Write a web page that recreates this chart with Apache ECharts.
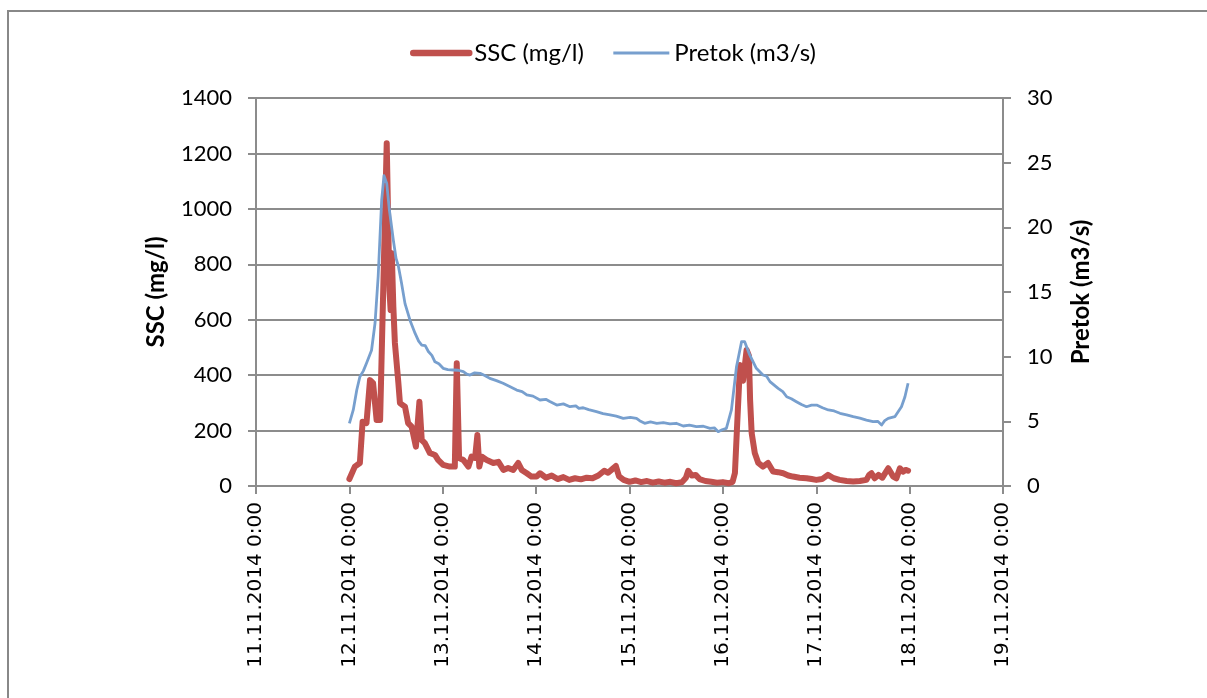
<!DOCTYPE html>
<html>
<head>
<meta charset="utf-8">
<script src="https://cdn.jsdelivr.net/npm/echarts@6/dist/echarts.min.js"></script>
<style>
  html, body { margin: 0; padding: 0; background: #fff; }
  #chart { width: 1207px; height: 698px; }
</style>
</head>
<body>
<div id="chart"></div>
<script>
// Time in hours from 12.11.2014 00:00
const sscHours = [0, 1.4, 2.7, 3.4, 4.4, 5.3, 6.1, 7.0, 7.9, 8.7, 9.6, 10.0, 10.3, 10.6, 10.9, 11.3, 11.7, 12.6, 13.0, 14.3,
  15.1, 16.0, 17.1, 18.0, 18.6, 19.4, 20.7, 22.0, 22.8, 24.1, 25.8, 27.1, 27.6, 28.2, 29.3, 30.6, 31.4, 32.3, 32.9, 33.4,
  34.0, 35.3, 37.0, 38.3, 39.6, 40.8, 42.1, 43.4, 44.3, 45.6, 46.8, 48.1, 49.0, 50.5, 52.0, 53.5, 55.0, 56.5, 58.0, 59.5,
  61.0, 62.5, 64.0, 65.5, 66.5, 67.5, 68.5, 69.3, 70.5, 72.0, 73.5, 75.0, 76.5, 78.0, 79.5, 81.0, 82.5, 84.0, 85.5, 86.5,
  87.1, 88.0, 89.0, 90.0, 91.5, 93.0, 94.5, 96.0, 97.5, 98.5, 99.1, 99.6, 100.4, 101.2, 102.1, 102.7, 103.0, 103.4, 104.2, 105.1,
  106.3, 107.6, 108.9, 110.2, 111.5, 112.8, 114.0, 115.7, 117.5, 118.8, 120.0, 121.5, 123.0, 124.5, 126.0, 127.8, 129.5, 131.2, 132.9, 133.6,
  134.2, 135.0, 136.0, 137.0, 138.5, 139.8, 140.6, 141.5, 142.3, 143.0, 143.6];
const sscValues = [25, 70, 83, 232, 227, 382, 371, 238, 238, 707, 1237, 1230, 707, 635, 840, 647, 516, 371, 299, 286,
  227, 214, 142, 304, 166, 155, 119, 112, 94, 76, 70, 70, 443, 101, 94, 70, 106, 101, 184, 70,
  106, 94, 83, 87, 58, 65, 58, 83, 58, 46, 34, 34, 46, 30, 38, 25, 32, 22, 28, 24,
  30, 28, 38, 55, 48, 60, 72, 35, 22, 15, 20, 14, 18, 12, 16, 12, 15, 10, 14, 30,
  55, 38, 40, 25, 18, 15, 12, 14, 10, 15, 47, 200, 437, 380, 491, 470, 310, 191, 119, 83,
  70, 83, 52, 50, 46, 38, 34, 30, 28, 25, 22, 25, 40, 28, 22, 18, 16, 18, 22, 40,
  46, 28, 40, 30, 64, 34, 28, 64, 52, 58, 55];

const flowHours = [0, 1.0, 1.9, 2.7, 3.6, 4.4, 5.7, 6.6, 7.4, 8.3, 8.9, 9.6, 10.3, 11.3, 12.0, 12.6, 13.4, 14.3, 15.0, 15.6,
  16.9, 17.8, 18.6, 19.5, 20.3, 21.2, 22.0, 23.0, 24.1, 25.3, 26.7, 28.0, 29.3, 30.2, 31.0, 32.2, 33.6, 34.8, 36.1, 37.8,
  39.5, 41.2, 43.0, 44.4, 45.6, 47.2, 49.0, 50.5, 51.4, 53.3, 55.0, 56.7, 58.2, 59.0, 60.1, 61.5, 63.5, 65.2, 67.0, 68.6,
  70.4, 72.2, 73.8, 74.6, 75.9, 77.4, 79.0, 80.7, 82.4, 84.0, 85.8, 87.4, 89.2, 91.0, 92.7, 93.8, 94.8, 95.8, 96.9, 98.2,
  99.5, 100.8, 101.6, 102.9, 104.6, 106.3, 107.2, 108.1, 110.2, 111.4, 112.4, 113.6, 114.9, 116.2, 117.5, 118.8, 120.1, 121.6, 123.1, 124.6,
  126.1, 127.8, 129.5, 131.2, 132.9, 134.6, 135.8, 136.8, 137.6, 138.5, 140.2, 141.9, 142.8, 143.6];
const flowValues = [4.85, 5.88, 7.42, 8.45, 8.9, 9.49, 10.5, 12.6, 16.2, 22.1, 24.0, 23.4, 21.3, 19.0, 17.6, 17.0, 15.7, 14.1, 13.4, 12.8,
  11.8, 11.2, 10.9, 10.85, 10.4, 10.1, 9.6, 9.45, 9.1, 9.0, 8.97, 8.95, 8.84, 8.65, 8.58, 8.75, 8.71, 8.55, 8.32, 8.15,
  7.94, 7.7, 7.42, 7.3, 7.04, 6.95, 6.65, 6.7, 6.55, 6.26, 6.35, 6.13, 6.2, 6.0, 6.05, 5.9, 5.75, 5.6, 5.49, 5.4,
  5.23, 5.3, 5.23, 5.05, 4.85, 4.95, 4.85, 4.9, 4.8, 4.85, 4.64, 4.7, 4.59, 4.62, 4.46, 4.5, 4.2, 4.35, 4.46, 5.88,
  9.22, 11.16, 11.16, 10.13, 9.1, 8.58, 8.5, 8.07, 7.55, 7.3, 6.9, 6.75, 6.52, 6.3, 6.13, 6.25, 6.26, 6.05, 5.88, 5.8,
  5.62, 5.5, 5.36, 5.25, 5.1, 4.97, 5.0, 4.72, 5.05, 5.23, 5.36, 6.13, 6.9, 7.94];

const seriesNames = ['SSC (mg/l)', 'Pretok (m3/s)'];
// x axis runs in hours from 11.11.2014 00:00 to 19.11.2014 00:00
const axisStartDay = 11;
const dataOffsetHours = 24;

const sscColor = '#C0504D';
const flowColor = '#779FCE';
const gridColor = '#8c8c8c';
const chart = echarts.init(document.getElementById('chart'), null, { renderer: 'canvas' });

const toPairs = (hours, vals) => hours.map((h, i) => [h + dataOffsetHours, vals[i]]);

chart.setOption({
  animation: false,
  backgroundColor: '#ffffff',
  textStyle: { fontFamily: 'Lato' },
  graphic: [
    { type: 'polyline', silent: true, shape: { points: [[8, 698], [8, 11], [1207, 11]] },
      style: { stroke: '#888888', lineWidth: 2, fill: null } }
  ],
  legend: {
    left: 405, top: 36,
    itemWidth: 56, itemHeight: 14, itemGap: 28,
    itemStyle: { opacity: 0 },
    textStyle: { fontFamily: 'Lato', fontSize: 24, color: '#000' },
    data: [
      { name: seriesNames[0], lineStyle: { width: 6.5, color: sscColor, cap: 'round' } },
      { name: seriesNames[1], lineStyle: { width: 3, color: flowColor } }
    ]
  },
  grid: { left: 256, right: 204, top: 98, bottom: 212, containLabel: false, outerBoundsMode: 'none' },
  xAxis: {
    type: 'value', min: 0, max: 192, interval: 24,
    axisLine: { show: true, lineStyle: { color: gridColor, width: 2 } },
    axisTick: { show: true, length: 8, lineStyle: { color: gridColor, width: 2 } },
    splitLine: { show: false },
    axisLabel: {
      rotate: 90, margin: 16, fontFamily: 'DejaVu Sans', fontSize: 20, color: '#000',
      showMinLabel: true, showMaxLabel: true,
      formatter: v => (axisStartDay + Math.round(v / 24)) + '.11.2014 0:00'
    }
  },
  yAxis: [
    {
      type: 'value', min: 0, max: 1400, interval: 200, position: 'left',
      name: seriesNames[0], nameLocation: 'middle', nameGap: 88, nameRotate: 90,
      nameTextStyle: { fontFamily: 'Lato', fontWeight: 'bold', fontSize: 24, color: '#000' },
      axisLine: { show: true, lineStyle: { color: gridColor, width: 2 } },
      axisTick: { show: true, length: 8, lineStyle: { color: gridColor, width: 2 } },
      splitLine: { show: true, lineStyle: { color: gridColor, width: 2 } },
      axisLabel: { margin: 24, fontFamily: 'Lato', fontSize: 22, color: '#000', formatter: v => String(v) }
    },
    {
      type: 'value', min: 0, max: 30, interval: 5, position: 'right',
      name: seriesNames[1], nameLocation: 'middle', nameGap: 66, nameRotate: 90,
      nameTextStyle: { fontFamily: 'Lato', fontWeight: 'bold', fontSize: 24, color: '#000' },
      axisLine: { show: true, lineStyle: { color: gridColor, width: 2 } },
      axisTick: { show: true, length: 8, lineStyle: { color: gridColor, width: 2 } },
      splitLine: { show: false },
      axisLabel: { margin: 24, fontFamily: 'Lato', fontSize: 22, color: '#000', formatter: v => String(v) }
    }
  ],
  series: [
    {
      name: seriesNames[0], type: 'line', yAxisIndex: 0, z: 2,
      showSymbol: false, symbol: 'none',
      lineStyle: { color: sscColor, width: 6, join: 'round', cap: 'round' },
      itemStyle: { color: sscColor },
      data: toPairs(sscHours, sscValues)
    },
    {
      name: seriesNames[1], type: 'line', yAxisIndex: 1, z: 3,
      showSymbol: false, symbol: 'none',
      lineStyle: { color: flowColor, width: 2.8, join: 'round' },
      itemStyle: { color: flowColor },
      data: toPairs(flowHours, flowValues)
    }
  ]
});
</script>
</body>
</html>
